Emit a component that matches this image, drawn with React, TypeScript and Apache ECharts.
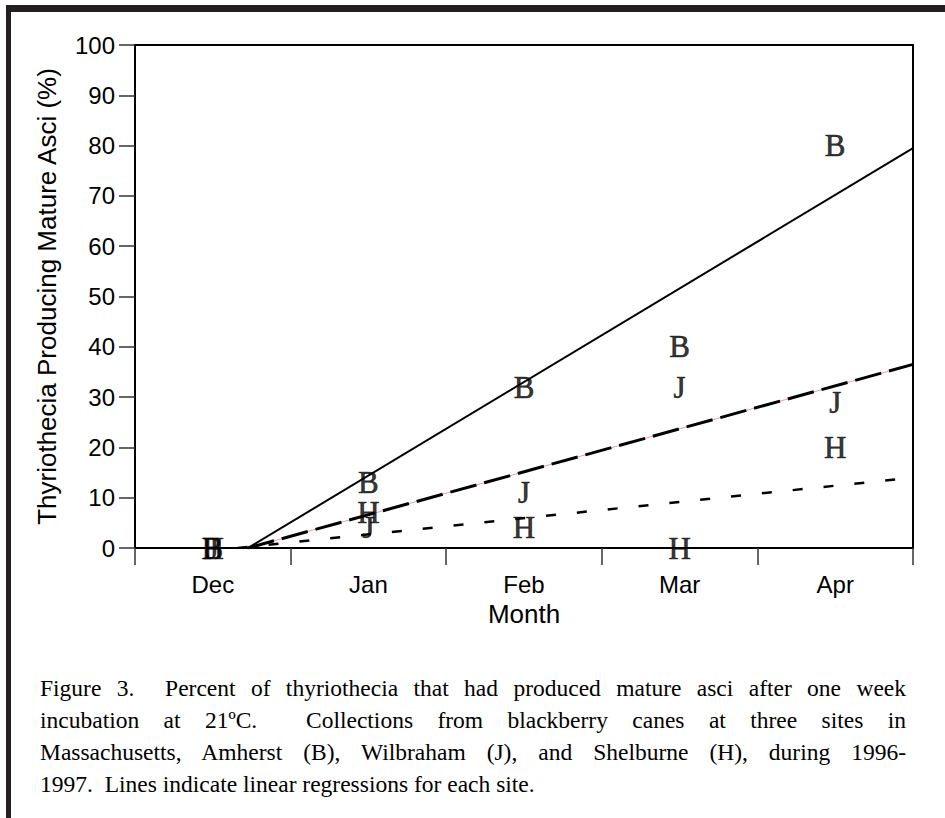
import React, { useEffect, useRef } from "react";
import * as echarts from "echarts";

const months = ["Dec", "Jan", "Feb", "Mar", "Apr"];
const siteB = [0, 13, 32, 40, 80];
const siteJ = [0, 4, 11, 32, 29];
const siteH = [0, 7, 4, 0, 20];

// linear regression end points (x in month units from start of Dec)
const fitBx = [0.726, 5];
const fitBy = [0, 79.5];
const fitJx = [0.726, 5];
const fitJy = [0, 36.5];
const fitHx = [0.66, 5];
const fitHy = [0, 14];

const captionLines = [
  "Figure 3.  Percent of thyriothecia that had produced mature asci after one week",
  "incubation at 21ºC.  Collections from blackberry canes at three sites in",
  "Massachusetts, Amherst (B), Wilbraham (J), and Shelburne (H), during 1996-",
  "1997.  Lines indicate linear regressions for each site.",
];

const pairs = (xs: number[], ys: number[]) => xs.map((x, i) => [x, ys[i]]);

const letterSeries = (name: string, vals: number[]) => ({
  type: "scatter",
  name,
  xAxisIndex: 1,
  yAxisIndex: 0,
  symbolSize: 1,
  itemStyle: { color: "rgba(0,0,0,0)" },
  label: {
    show: true,
    position: "inside",
    formatter: name,
    fontFamily: "Liberation Serif",
    fontSize: 31,
    color: "#000",
    textBorderWidth: 0.6,
    textBorderColor: "#000",
    textShadowBlur: 0,
  },
  emphasis: { disabled: true },
  z: 5,
  data: vals.map((v, i) => [i + 0.5, v]),
});

export default function App() {
  const ref = useRef<HTMLDivElement>(null);
  useEffect(() => {
    if (!ref.current) return;
    const chart = echarts.init(ref.current, null, { renderer: "svg" });
    chart.setOption({
      animation: false,
      grid: {
        left: 135,
        top: 45,
        width: 778,
        height: 503,
        show: true,
        borderColor: "#000",
        borderWidth: 2,
        backgroundColor: "transparent",
      },
      xAxis: [
        {
          type: "category",
          data: months,
          boundaryGap: true,
          position: "bottom",
          axisLine: { show: true, lineStyle: { color: "#000", width: 2 } },
          axisTick: { show: true, length: 17, lineStyle: { color: "#333", width: 1.5 } },
          axisLabel: {
            fontFamily: "Liberation Sans",
            fontSize: 24,
            color: "#000",
            margin: 24,
          },
          name: "Month",
          nameLocation: "middle",
          nameGap: 47,
          nameTextStyle: { fontFamily: "Liberation Sans", fontSize: 26, color: "#000" },
          splitLine: { show: false },
        },
        {
          type: "value",
          min: 0,
          max: 5,
          show: false,
          splitLine: { show: false },
        },
      ],
      yAxis: {
        type: "value",
        min: 0,
        max: 100,
        interval: 10,
        axisLine: { show: true, lineStyle: { color: "#000", width: 2 } },
        axisTick: { show: true, length: 16, lineStyle: { color: "#333", width: 1.5 } },
        axisLabel: {
          fontFamily: "Liberation Sans",
          fontSize: 24,
          color: "#000",
          margin: 20,
        },
        splitLine: { show: false },
        name: "Thyriothecia Producing Mature Asci (%)",
        nameLocation: "middle",
        nameGap: 75,
        nameTextStyle: { fontFamily: "Liberation Sans", fontSize: 26, color: "#000" },
      },
      series: [
        {
          type: "line",
          xAxisIndex: 1,
          symbol: "none",
          data: pairs(fitJx, fitJy),
          lineStyle: { color: "#f29a9a", width: 1, type: "solid" },
          z: 2,
        },
        {
          type: "line",
          xAxisIndex: 1,
          symbol: "none",
          data: pairs(fitBx, fitBy),
          lineStyle: { color: "#000", width: 2, type: "solid" },
          z: 3,
        },
        {
          type: "line",
          xAxisIndex: 1,
          symbol: "none",
          data: pairs(fitJx, fitJy),
          lineStyle: { color: "#000", width: 3, type: [27, 8] },
          z: 3,
        },
        {
          type: "line",
          xAxisIndex: 1,
          symbol: "none",
          data: pairs(fitHx, fitHy),
          lineStyle: { color: "#000", width: 2.5, type: [10, 21] },
          z: 3,
        },
        letterSeries("B", siteB),
        letterSeries("J", siteJ),
        letterSeries("H", siteH),
      ],
    });
    return () => chart.dispose();
  }, []);

  return (
    <div
      style={{
        position: "absolute",
        left: 0,
        top: 0,
        width: 945,
        height: 818,
        background: "#fff",
        overflow: "hidden",
      }}
    >
      <div style={{ position: "absolute", left: 6, top: 5, width: 939, height: 7, background: "#231f20" }} />
      <div style={{ position: "absolute", left: 6, top: 5, width: 5, height: 813, background: "#231f20" }} />
      <div ref={ref} style={{ position: "absolute", left: 0, top: 0, width: 945, height: 650 }} />
      <div
        style={{
          position: "absolute",
          left: 40,
          top: 672,
          width: 866,
          fontFamily: "Liberation Serif",
          fontSize: 23.5,
          lineHeight: "32px",
          color: "#000",
        }}
      >
        {captionLines.map((t, i) => (
          <div
            key={i}
            style={{
              whiteSpace: "pre-wrap",
              textAlign: i < 3 ? "justify" : "left",
              textAlignLast: i < 3 ? "justify" : "left",
            }}
          >
            {t}
          </div>
        ))}
      </div>
    </div>
  );
}
